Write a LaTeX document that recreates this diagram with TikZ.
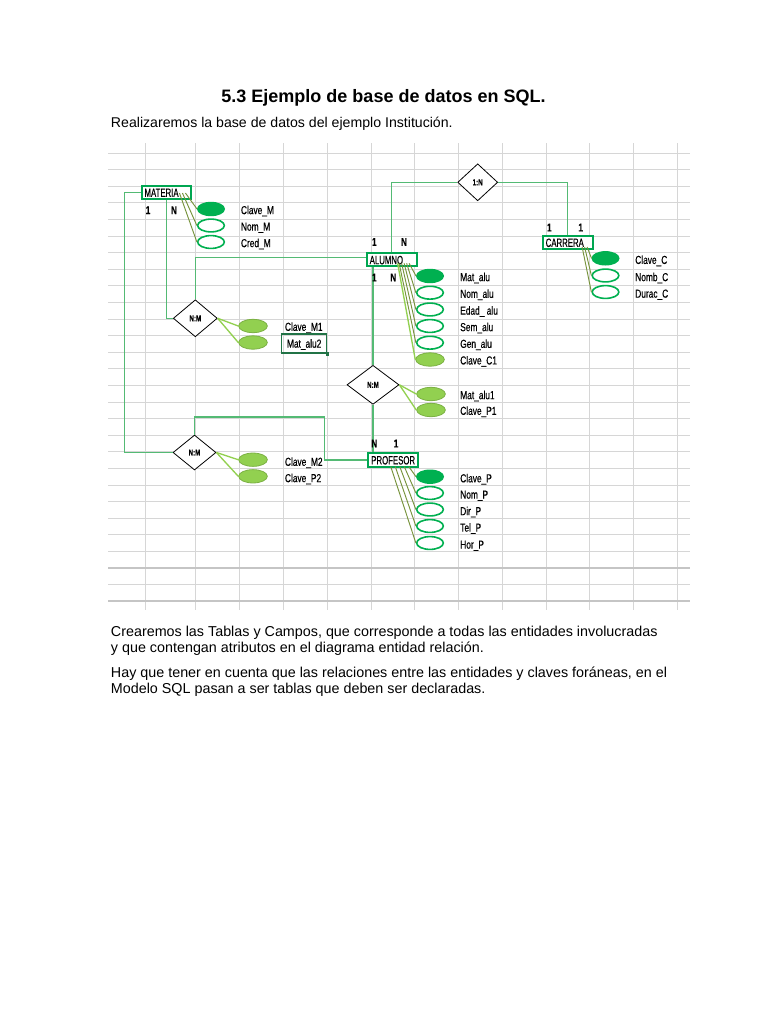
\documentclass[tikz,border=0pt]{standalone}
\usepackage{fontspec}
\setmainfont{Liberation Sans}
\newfontfamily\narrow[FakeStretch=0.72,FakeBold=0.4]{Liberation Sans}
\newfontfamily\boxfont[FakeStretch=0.65,FakeBold=0.4]{Liberation Sans}
\usetikzlibrary{shapes.geometric,positioning,calc}
\definecolor{entgreen}{RGB}{0,166,81}
\definecolor{relgreen}{RGB}{84,186,116}
\definecolor{keygreen}{RGB}{0,176,80}
\definecolor{fkgreen}{RGB}{146,208,80}
\definecolor{olive}{RGB}{119,147,60}
\definecolor{cellgray}{RGB}{214,214,214}
\definecolor{selgreen}{RGB}{33,115,70}
\tikzset{
 entity/.style={draw=entgreen,line width=1.5pt,fill=white,inner xsep=2.2pt,inner ysep=1.6pt,text width=33pt,align=left,text height=6.6pt,text depth=0pt,font=\boxfont\fontsize{9}{9}\selectfont},
 rel/.style={diamond,draw=black,fill=white,line width=0.6pt,inner sep=0pt,font=\narrow\bfseries\fontsize{6.5}{6.5}\selectfont},
 pk/.style={ellipse,draw=keygreen,fill=keygreen,line width=1pt,minimum width=20pt,minimum height=9.8pt,inner sep=0pt},
 attr/.style={ellipse,draw=keygreen,fill=white,line width=1.2pt,minimum width=20pt,minimum height=9.6pt,inner sep=0pt},
 fk/.style={ellipse,draw=fkgreen!85!black,fill=fkgreen,line width=0.6pt,minimum width=21.5pt,minimum height=10pt,inner sep=0pt},
 lbl/.style={anchor=west,inner sep=0pt,text height=6.2pt,text depth=0pt,font=\narrow\fontsize{8.7}{9}\selectfont},
 card/.style={inner sep=0pt,text height=6.2pt,text depth=0pt,font=\narrow\bfseries\fontsize{8.5}{9}\selectfont},
 link/.style={draw=relgreen,line width=1.1pt},
 spoke/.style={draw=olive,line width=0.7pt},
 fkspoke/.style={draw=fkgreen,line width=1pt},
 para/.style={anchor=base west,inner sep=0pt,font=\fontsize{10.75}{13}\selectfont}
}
\begin{document}
\begin{tikzpicture}[x=0.75pt,y=-0.75pt]
\useasboundingbox[fill=white] (0,0) rectangle (768,1024);
% hoja de calculo
\foreach \k in {0,...,27} \draw[cellgray,line width=0.75pt] (108,153+16.6*\k) -- (690,153+16.6*\k);
\foreach \x in {145,195.5,239,283.5,327,371,414.5,458,502,546,589.5,633.5,677} \draw[cellgray,line width=0.75pt] (\x,143) -- (\x,610);
\foreach \y in {568,601.2} \draw[cellgray!92!black,line width=1.5pt] (108,\y) -- (690,\y);
% textos
\node[anchor=base,inner sep=0pt,font=\bfseries\fontsize{13.5}{16}\selectfont] (titulo) at (383.5,103) {5.3 Ejemplo de base de datos en SQL.};
\node[para,font=\fontsize{10.6}{13}\selectfont] (intro) at (110.7,127.5) {Realizaremos la base de datos del ejemplo Institución.};
\node[para] (p1) at (110.7,636) {Crearemos las Tablas y Campos, que corresponde a todas las entidades involucradas};
\node[para] (p2) at (110.7,652) {y que contengan atributos en el diagrama entidad relación.};
\node[para] (p3) at (110.7,677) {Hay que tener en cuenta que las relaciones entre las entidades y claves foráneas, en el};
\node[para] (p4) at (110.7,693) {Modelo SQL pasan a ser tablas que deben ser declaradas.};
% relaciones
\node[rel,minimum width=33pt,minimum height=27.75pt] (rmm1) at (195.3,318.3) {N:M};
\node[rel,minimum width=30pt,minimum height=27.75pt] (r1n) at (477.7,182.3) {1:N};
\node[rel,minimum width=39pt,minimum height=29.25pt] (rmm2) at (373,384.8) {N:M};
\node[rel,minimum width=32.25pt,minimum height=26.25pt] (rmm3) at (194.5,452.5) {N:M};
% entidades
\node[entity] (materia) at (166.5,192.5) {MATERIA};
\node[entity] (alumno) at (391.7,259.8) {ALUMNO};
\node[entity] (carrera) at (567.7,242.5) {CARRERA};
\node[entity] (profesor) at (393.3,460) {PROFESOR};
% lineas de relacion
\draw[link] (materia.west) -- ++(-16,0) |- (rmm3.west);
\draw[link] (materia.south) |- (rmm1.west);
\draw[link] (rmm1.north) |- ($(alumno.west)+(0,-2.5)$);
\draw[link] (alumno.north) |- (r1n.west);
\draw[link] (r1n.east) -| (carrera.north);
\draw[link] (rmm2.north) -- (rmm2.north |- alumno.south);
\draw[link] (rmm2.south) -- (rmm2.south |- profesor.north);
\draw[link] (profesor.west) -- ++(-43,0) -- ++(0,-43) -| (rmm3.north);
% cardinalidades
\foreach \x/\y/\c [count=\i] in {148/210/1,174/210/N,374.3/241.7/1,404/241.7/N,374.3/277.3/1,393.3/277.3/N,549.3/227.3/1,580.7/227.3/1,374.3/443.3/N,396/443.3/1}
 \node[card] (card\i) at (\x,\y) {\c};
% atributos
\foreach \n/\y/\s/\t [count=\i] in {cm/209/pk/Clave\_M,nm/225.5/attr/Nom\_M,crm/242/attr/Cred\_M}
 {\node[\s] (\n) at (211,\y) {};\node[lbl] (\n-t) at (240.7,\y+1) {\t};
  \draw[spoke] ($(materia.south east)+(-4-3*\i,-7)$) -- (\n.west);}
\foreach \n/\y/\s/\t [count=\i] in {ma/276/pk/Mat\_alu,noa/292.7/attr/Nom\_alu,eda/309.5/attr/Edad\_ alu,sea/326/attr/Sem\_alu,gea/342.7/attr/Gen\_alu}
 {\node[\s] (\n) at (430,\y) {};\node[lbl] (\n-t) at (460,\y+1) {\t};
  \draw[spoke] ($(alumno.south east)+(-6-2.5*\i,-4)$) -- (\n.west);}
\node[fk] (cc1) at (430,359.5) {};\node[lbl] (cc1-t) at (460,360.3) {Clave\_C1};
\draw[fkspoke] ($(alumno.south east)+(-20,-4)$) -- (cc1.west);
\foreach \n/\y/\s/\t [count=\i] in {cc/258.3/pk/Clave\_C,nc/275.5/attr/Nomb\_C,dc/292/attr/Durac\_C}
 {\node[\s] (\n) at (605.5,\y) {};\node[lbl] (\n-t) at (635,\y+1.5) {\t};
  \draw[spoke] ($(carrera.south east)+(-4-2.5*\i,-3)$) -- (\n.west);}
\foreach \n/\y/\s/\t [count=\i] in {cp/476.7/pk/Clave\_P,np/493/attr/Nom\_P,dp/509.5/attr/Dir\_P,tp/526/attr/Tel\_P,hp/543/attr/Hor\_P}
 {\node[\s] (\n) at (430,\y) {};\node[lbl] (\n-t) at (460,\y+1.5) {\t};
  \draw[spoke] ($(profesor.south east)+(-6-4.5*\i,-1)$) -- (\n.west);}
% atributos de relaciones
\foreach \r/\x/\n/\y in {rmm1/253/cm1/326,rmm1/253/ma2/342.5,rmm2/431/ma1/394,rmm2/431/cp1/410,rmm3/253/cm2/459.7,rmm3/253/cp2/476.3}
 {\node[fk] (\n) at (\x,\y) {};\draw[fkspoke] (\r.east) -- (\n.west);}
\foreach \n/\x/\y/\t in {cm1/284.7/326.7/Clave\_M1,ma1/460/395/Mat\_alu1,cp1/460/410.7/Clave\_P1,cm2/284.7/461.7/Clave\_M2,cp2/284.7/478/Clave\_P2}
 \node[lbl] (\n-t) at (\x,\y) {\t};
\node[lbl,draw=selgreen,line width=1pt,inner xsep=2.8pt,inner ysep=4pt,minimum width=33.75pt,align=left] (ma2-t) at (281,343.5) {Mat\_alu2};
\fill[selgreen] ($(ma2-t.south east)+(-1.5,-1.5)$) rectangle ++(3.5,3.5);
\end{tikzpicture}
\end{document}
